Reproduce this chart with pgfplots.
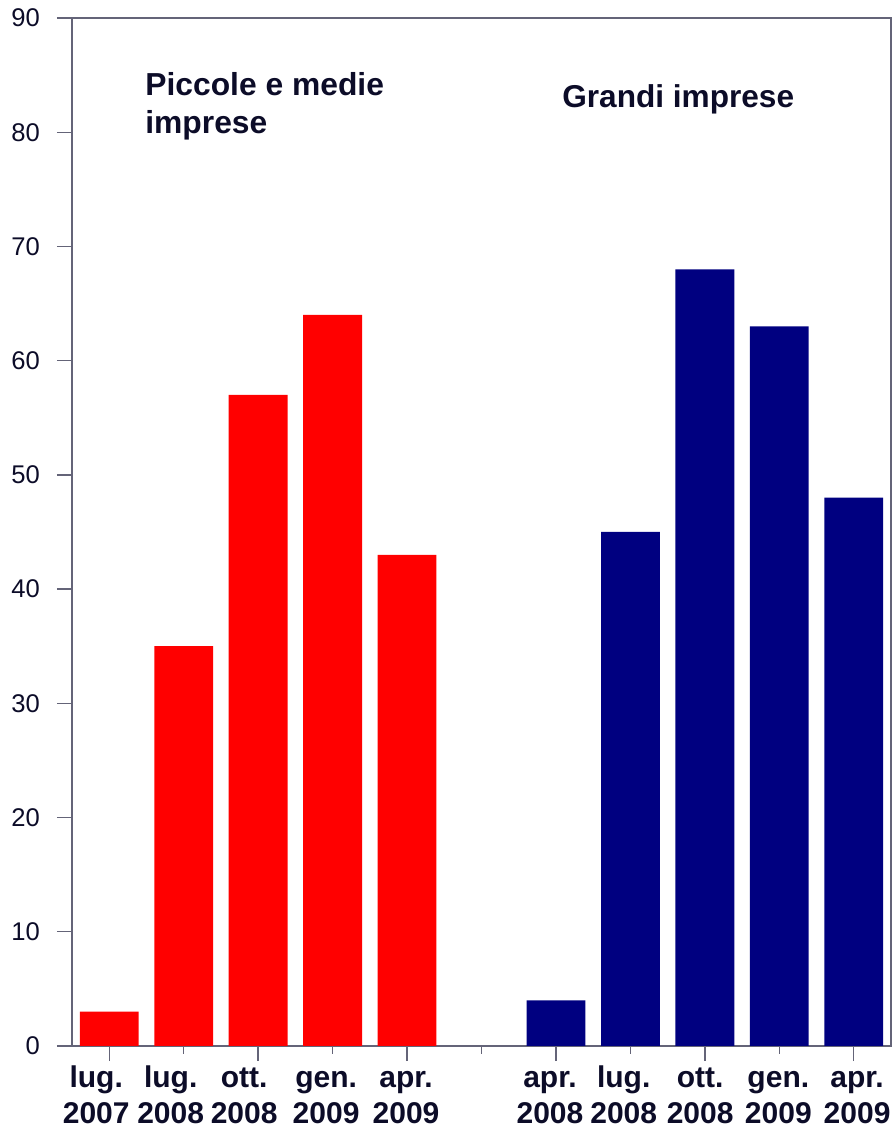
\documentclass[border=0pt]{standalone}
\usepackage{fontspec}
\setmainfont{Liberation Sans}
\usepackage{pgfplots}
\pgfplotsset{compat=1.18}
\definecolor{barred}{RGB}{255,0,0}
\definecolor{barblue}{RGB}{0,0,128}
\definecolor{txt}{RGB}{12,12,40}
\definecolor{axc}{RGB}{100,100,120}
\newcommand{\lab}[4]{\hspace*{#4pt}\strut #1\hspace*{#3pt}\\\hspace*{#4pt}\strut #2\hspace*{#3pt}}
\begin{document}
\begin{tikzpicture}
\begin{axis}[
  scale only axis,
  width=409.5pt, height=514pt,
  xmin=-0.5, xmax=10.5, ymin=0, ymax=90,
  axis line style={axc, line width=0.9pt},
  ytick={0,10,...,90},
  xtick={0,2,4,6,8,10},
  minor xtick={1,3,5,7,9},
  xticklabels={},
  tick align=outside,
  xtick pos=bottom, ytick pos=left,
  major tick length=7.5pt,
  minor tick length=4pt,
  tick style={axc, line width=0.7pt},
  extra x ticks={0,1,2,3,4,6,7,8,9,10},
  extra x tick labels={{\lab{lug.}{2007}{13}{0}},{\lab{lug.}{2008}{13}{0}},{\lab{ott.}{2008}{14}{0}},{\lab{gen.}{2009}{6.5}{0}},{\lab{apr.}{2009}{1}{0}},{\lab{apr.}{2008}{6}{0}},{\lab{lug.}{2008}{6.7}{0}},{\lab{ott.}{2008}{4.7}{0}},{\lab{gen.}{2009}{1}{0}},{\lab{apr.}{2009}{0}{3.3}}},
  extra x tick style={major tick length=0pt, tick style={draw=none},
    tick label style={align=center, font=\fontsize{15}{18}\selectfont\bfseries, text=txt, inner sep=0pt, anchor=north, yshift=-8pt}},
  yticklabel style={font=\fontsize{12.8}{15}\selectfont, text=txt, xshift=-5pt},
  /pgf/number format/assume math mode=true,
]
\addplot[ybar, bar width=0.79, fill=barred, draw=none] coordinates {(0,3) (1,35) (2,57) (3,64) (4,43)};
\addplot[ybar, bar width=0.79, fill=barblue, draw=none] coordinates {(6,4) (7,45) (8,68) (9,63) (10,48)};
\node[anchor=base west, inner sep=0pt, font=\fontsize{15.9}{19}\selectfont\bfseries, text=txt] at (axis cs:0.48,83.2) {Piccole e medie};
\node[anchor=base west, inner sep=0pt, font=\fontsize{15.9}{19}\selectfont\bfseries, text=txt] at (axis cs:0.48,79.86) {imprese};
\node[anchor=base west, inner sep=0pt, font=\fontsize{15.8}{19}\selectfont\bfseries, text=txt] at (axis cs:6.08,82.2) {Grandi imprese};
\end{axis}
\pgfresetboundingbox
\path[use as bounding box] (-36pt,-40.5pt) rectangle (411pt,523pt);
\end{tikzpicture}
\end{document}
